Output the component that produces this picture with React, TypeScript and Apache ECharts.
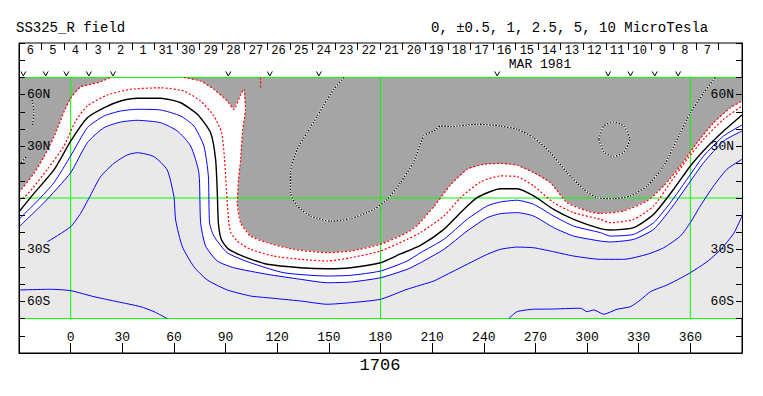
import { useEffect, useRef } from 'react';
import * as echarts from 'echarts';

const FONT = 'Liberation Mono, DejaVu Sans Mono, monospace';

const dayLabels = ['6', '5', '4', '3', '2', '1', '31', '30', '29', '28', '27', '26', '25', '24', '23', '22', '21', '20', '19', '18', '17', '16', '15', '14', '13', '12', '11', '10', '9', '8', '7'];
const latLabels: Record<string, string> = { '60': '60N', '30': '30N', '-30': '30S', '-60': '60S' };
const vMarkLons = [-27.5, -14.5, -2.5, 10.6, 24.6, 91.6, 115.7, 144.2, 247.8, 312.2, 325.2, 339.3, 352.9];
const gridLons = [0, 180, 360];
const gridLats = [-70, 0, 70];
const mapRect = [[-30, -70], [390, -70], [390, 70], [-30, 70]];

const zeroLine = [[-30, -8], [-21.3, 2.7], [-9.7, 16.3], [0, 33], [9.7, 46.6], [19.3, 52.4], [29, 56.3], [38.7, 57.9], [52.3, 57.9], [63.9, 55.3], [73.6, 48.6], [81.3, 37.9], [84.2, 22.5], [85.2, 3.1], [85.8, -14.3], [87.5, -24], [91, -29], [96, -32], [104.5, -35.5], [114.2, -38.5], [133.5, -40.5], [149.1, -41.1], [162.6, -40.5], [180, -37.6], [191.6, -32.5], [203.2, -27.5], [216.8, -18.2], [226.5, -8.5], [236.1, 0.2], [249.7, 5.4], [259.4, 5.4], [269, 1.2], [280.6, -6.6], [292.2, -12.4], [307.7, -17.8], [313.5, -18.6], [327.1, -17.2], [338.7, -9.5], [350.3, 5.1], [360, 18.6], [369.7, 29.6], [379.3, 38.9], [390, 48.2]];

const negHalf = [[-30, -1.7], [-25.2, 2], [-13.5, 16.7], [-3.9, 30.2], [2.9, 44.7], [9.7, 53.4], [21.3, 59.8], [34.8, 63.1], [52.3, 64.0], [65.8, 62.1], [75.5, 56.3], [83.2, 47.6], [87.7, 37.9], [89.4, 22.5], [90.6, 3.1], [91.9, -14.3], [93, -20], [96.8, -25], [104.5, -29.8], [118, -33.7], [133.5, -35.6], [149.1, -36.6], [162.6, -34.7], [180, -30.8], [195.5, -24.0], [203.2, -20.1], [216.8, -10.5], [226.5, 0.2], [238.1, 9.3], [249.7, 12.8], [259.4, 12.4], [269, 7.0], [280.6, -2.7], [292.2, -8.5], [307.7, -12.4], [313.5, -14.3], [327.1, -12.4], [338.7, -4.6], [348.4, 8.9], [358.1, 22.5], [367.7, 34.1], [379.3, 45.7], [390, 53.4]];

const negOneLeft = [[-30, 3.2], [-21.3, 14.3], [-15.5, 24.0], [-9.7, 35.5], [-3.9, 49.9], [0, 58], [5.8, 64.6], [11.6, 65.9], [17.4, 67.5], [23.2, 70]];
const negOneMain = [[65.8, 70], [75.5, 67.9], [83.2, 63.1], [91, 56.3], [94.8, 51.5], [98.7, 59.8], [100.6, 63.3], [101.6, 51.7], [99.9, 39.5], [98.7, 22.1], [97.5, 10.5], [96.8, -2.7], [98.7, -14.3], [104.5, -22.1], [114.2, -26], [129.7, -29.8], [149.1, -31.8], [162.6, -30.8], [180, -26.9], [195.5, -20.1], [201.3, -16], [211, -5], [220.6, 7.5], [230.3, 16.7], [240, 19.6], [249.7, 20.1], [259.4, 19.0], [269, 14.7], [278.7, 8.9], [288.4, -2.7], [300, -7.5], [307.7, -9.0], [321.3, -7.5], [334.9, -1.7], [344.5, 7.0], [354.2, 18.6], [363.9, 32.1], [373.5, 43.7], [383.2, 52.4], [390, 56.3]];
const negOneBit = [[110.3, 70], [110.3, 63.5]];

const posHalf = [[-30, -12.4], [-19.3, -1.7], [-9.7, 8.9], [0, 24.4], [9.7, 40.8], [19.3, 47.6], [29, 50.5], [38.7, 51.5], [52.3, 51.1], [63.9, 47.6], [71.6, 41.8], [77.4, 30.2], [80, 12.8], [80.7, -14.3], [83.2, -22.1], [91, -31.8], [104.5, -37.6], [123.9, -43.4], [149.1, -45.3], [162.6, -44.9], [180, -42.4], [195.5, -36.6], [203.2, -31.8], [216.8, -24.0], [230.3, -12.4], [242, -4.6], [249.7, -2.3], [259.4, -1.3], [269, -3.7], [280.6, -10.5], [292.2, -16.3], [307.7, -20.1], [313.5, -22.1], [327.1, -21.1], [338.7, -14.3], [348.4, -2.7], [358.1, 10.9], [367.7, 24.4], [379.3, 36.0], [390, 42.4]];

const posOne = [[-30, -16.7], [-15.5, -2.7], [0, 14.7], [9.7, 32.1], [19.3, 40.8], [29, 44.1], [38.7, 45.1], [52.3, 43.7], [62, 38.9], [69.7, 30.2], [74.5, 14.7], [75.5, -14.3], [78.4, -27.9], [85.2, -36.6], [94.8, -40.5], [114.2, -44.3], [133.5, -47.2], [149.1, -49.2], [162.6, -48.8], [180, -46.3], [195.5, -41.4], [203.2, -37.6], [216.8, -29.8], [230.3, -19.2], [242, -11.4], [249.7, -9.1], [259.4, -8.5], [269, -10.5], [280.6, -17.2], [292.2, -22.1], [307.7, -25.0], [313.5, -25.5], [327.1, -24.0], [338.7, -18.2], [348.4, -6.6], [358.1, 7.0], [367.7, 20.5], [379.3, 33.1], [390, 38.9]];

const posTwoHalf = [[-13.5, -25.4], [0, -16.7], [5.8, -8.9], [10.6, -0.2], [17.4, 12.4], [25.1, 20.1], [32.9, 25.0], [38.7, 26.3], [48.4, 24.0], [56.1, 16.3], [60, 0.8], [61, -12.8], [64.9, -28.3], [71.6, -39.9], [79.4, -47.6], [91, -53.4], [104.5, -56.9], [114.2, -57.9], [133.5, -59.8], [149.1, -61.7], [162.6, -60.8], [180, -58.8], [195.5, -53.0], [211, -48.2], [216.8, -45.3], [230.3, -38.5], [242, -32.7], [249.7, -29.8], [259.4, -28.5], [269, -28.9], [278.7, -30.8], [292.2, -33.7], [307.7, -35.6], [321.3, -35.6], [334.9, -32.7], [344.5, -28.9], [354.2, -22.1], [360, -14.3], [365.8, -4.6], [373.5, 7.0], [381.3, 16.7], [390, 22.5]];

const posFiveLeft = [[-30, -53.4], [-11.6, -53.0], [0, -53.8], [13.5, -57.3], [27.1, -60.2], [40.6, -63.1], [48.4, -66.0], [56.1, -70]];
const posFiveRight = [[254.5, -70], [259.4, -66.0], [269, -64.6], [278.7, -64.5], [296.1, -64.0], [300, -66.0], [303.9, -65.0], [309.7, -67.5], [317.4, -64.6], [325.2, -63.1], [331, -59.2], [336.8, -54.4], [346.5, -50.5], [354.2, -46.6], [360, -43.4], [369.7, -37.0], [377.4, -30.2], [385.2, -20.5], [390, -10.5]];

const negTwoHalfMain = [[158.7, 70], [152.9, 63.1], [149.1, 57.3], [143.3, 47.6], [137.4, 37.9], [131.6, 28.3], [127.7, 14.7], [127.7, 3.1], [131.6, -4.6], [139.4, -10.5], [151, -13.4], [162.6, -12.0], [176.1, -6.6], [183.9, -0.8], [191.6, 8.9], [199.3, 21], [205.1, 36.0], [211, 38.9], [214.8, 41.8], [220.6, 41.5], [236.1, 42.8], [249.7, 41.8], [259.4, 39.9], [269, 35.0], [278.7, 26.3], [288.4, 14.7], [298, 5.1], [305.8, 0.2], [315.5, -0.4], [325.2, 1.2], [334.9, 7.0], [344.5, 18.6], [354.2, 37.9], [360, 49.5], [367.7, 61.1], [374.5, 70]];
const negTwoHalfRing = [[306.8, 34.1], [309.7, 41.8], [315.5, 44.1], [321.3, 41.8], [324.8, 34.1], [321.3, 26.7], [315.5, 24.0], [309.7, 26.7], [306.8, 34.1]];
const negTwoHalfEdgeA = [[-22.4, 57], [-21.3, 50], [-22.2, 42]];
const negTwoHalfEdgeB = [[-25.9, 23.8], [-28.9, 20.3]];

const LIGHT = '#e9e9e9';
const DARK = '#a5a5a5';
const GREEN = '#00ff00';

const fills = [
  { pts: mapRect, color: LIGHT },
  { pts: [...posOne, [390, 70], [-30, 70]], color: '#ffffff' },
  { pts: [[-30, 70], ...negOneLeft], color: DARK },
  { pts: [...negOneMain, [390, 70]], color: DARK },
];

function lineSeries(data: number[][], color: string, width: number, type: any, z: number) {
  return {
    type: 'line',
    data,
    showSymbol: false,
    symbol: 'none',
    smooth: 0.2,
    silent: true,
    z,
    lineStyle: { color, width, type },
  };
}

export default function App() {
  const ref = useRef<HTMLDivElement>(null);
  useEffect(() => {
    const chart = echarts.init(ref.current!, null, { renderer: 'svg' });
    const series: any[] = [];
    series.push({
      type: 'custom',
      silent: true,
      z: 1,
      data: fills.map(() => [0, 0]),
      renderItem: (params: any, api: any) => {
        const f = fills[params.dataIndex];
        return {
          type: 'polygon',
          shape: { points: f.pts.map((p) => api.coord(p)) },
          style: { fill: f.color, stroke: null },
        };
      },
    });
    gridLats.forEach((lat) => series.push({ ...lineSeries([[-30, lat], [390, lat]], GREEN, 1, 'solid', 2), smooth: false }));
    gridLons.forEach((lon) => series.push({ ...lineSeries([[lon, -70], [lon, 70]], GREEN, 1, 'solid', 2), smooth: false }));

    [negTwoHalfMain, negTwoHalfRing, negTwoHalfEdgeA, negTwoHalfEdgeB].forEach((d) => {
      series.push(lineSeries(d, '#ffffff', 1.2, 'solid', 3));
      series.push(lineSeries(d, '#000000', 1.2, [1.5, 1.5], 4));
    });
    [negOneLeft, negOneMain, negOneBit, negHalf].forEach((d) => series.push(lineSeries(d, '#ff0000', 1.2, [2, 2], 4)));
    series.push(lineSeries(zeroLine, '#000000', 1.4, 'solid', 4));
    [posHalf, posOne, posTwoHalf, posFiveLeft, posFiveRight].forEach((d) => series.push(lineSeries(d, '#0000ff', 1, 'solid', 4)));

    series.push({
      type: 'custom',
      silent: true,
      z: 5,
      data: vMarkLons.map((l) => [l, 70]),
      renderItem: (params: any, api: any) => {
        const [x, y] = api.coord([api.value(0), api.value(1)]);
        return {
          type: 'polyline',
          shape: { points: [[x - 2.5, y - 6], [x, y - 1.5], [x + 2.5, y - 6]] },
          style: { stroke: '#000', fill: null, lineWidth: 1 },
        };
      },
    });

    const latAxis = (position: string) => ({
      gridIndex: 0,
      type: 'value',
      min: -90,
      max: 90,
      interval: 10,
      position,
      z: 10,
      axisLine: { show: true, onZero: false, lineStyle: { color: '#000', width: 1 } },
      axisTick: { show: true, inside: true, length: 6, lineStyle: { color: '#000' } },
      axisLabel: {
        inside: true,
        margin: 8,
        color: '#000',
        fontFamily: FONT,
        fontSize: 13,
        formatter: (v: number) => latLabels[String(v)] ?? '',
      },
      splitLine: { show: false },
    });

    const option: any = {
      animation: false,
      backgroundColor: '#ffffff',
      grid: [
        { left: 19, top: 43, width: 723, height: 310, show: true, borderColor: '#000', borderWidth: 1, backgroundColor: 'transparent' },
        { left: 19, top: 43, width: 699.7, height: 20, show: false },
      ],
      xAxis: [
        {
          gridIndex: 0,
          type: 'value',
          min: -30,
          max: 390,
          interval: 30,
          position: 'bottom',
          z: 10,
          axisLine: { show: true, onZero: false, lineStyle: { color: '#000' } },
          axisTick: { show: true, inside: true, length: 10, lineStyle: { color: '#000' } },
          axisLabel: {
            inside: true,
            margin: 9,
            color: '#000',
            fontFamily: FONT,
            fontSize: 13,
            formatter: (v: number) => (v < 0 || v > 360 ? '' : String(v)),
          },
          splitLine: { show: false },
        },
        {
          gridIndex: 1,
          type: 'category',
          data: dayLabels,
          position: 'top',
          z: 10,
          axisLine: { show: false, onZero: false },
          axisTick: { show: true, inside: true, length: 7, lineStyle: { color: '#000' } },
          axisLabel: { inside: true, margin: 2, interval: 0, color: '#000', fontFamily: FONT, fontSize: 12 },
          splitLine: { show: false },
        },
      ],
      yAxis: [latAxis('left'), latAxis('right'), { gridIndex: 1, type: 'value', show: false, axisLine: { onZero: false } }],
      series,
      graphic: [
        { type: 'text', left: 16, top: 21, style: { text: 'SS325_R field', font: `14px ${FONT}`, fill: '#000' } },
        { type: 'text', left: 431, top: 21, style: { text: '0, \u00b10.5, 1, 2.5, 5, 10 MicroTesla', font: `14px ${FONT}`, fill: '#000' } },
        { type: 'text', x: 540, y: 64, style: { text: 'MAR 1981', font: `13px ${FONT}`, fill: '#000', align: 'center', verticalAlign: 'middle' } },
        { type: 'text', x: 380, y: 365, style: { text: '1706', font: `17px ${FONT}`, fill: '#000', align: 'center', verticalAlign: 'middle' } },
      ],
    };
    chart.setOption(option);
    return () => chart.dispose();
  }, []);
  return <div ref={ref} style={{ position: 'fixed', left: 0, top: 0, width: 763, height: 396 }} />;
}
